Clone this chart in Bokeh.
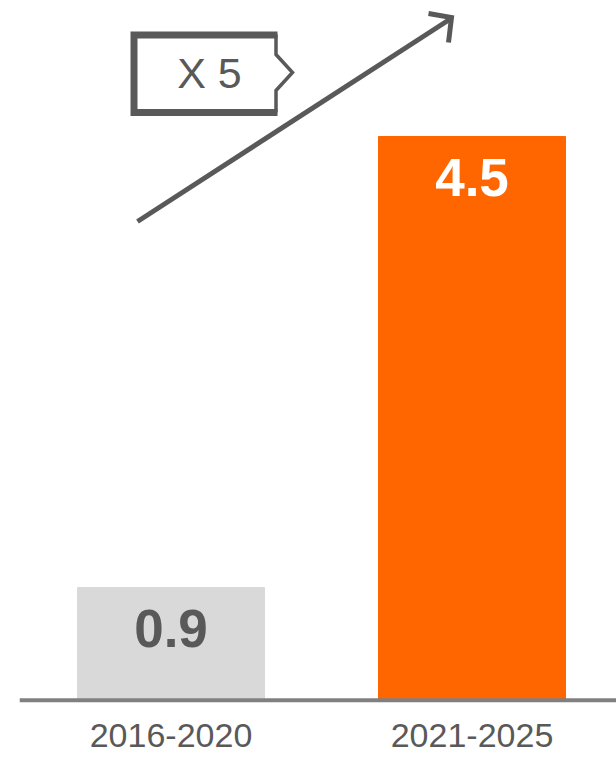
from bokeh.plotting import figure
from bokeh.models import Range1d, Span, ColumnDataSource
from bokeh.core.properties import value
from bokeh.embed import file_html
from bokeh.resources import INLINE

# ---- data ----
categories = ["2016-2020", "2021-2025"]
values = [0.9, 4.5]
bar_colors = ["#d9d9d9", "#ff6600"]
value_label_colors = ["#595959", "#ffffff"]
multiplier_label = "X 5"

# ---- layout constants (page pixels) ----
W, H = 616, 757
LEFT = 19
PX_PER_X = 301.0
PX_PER_Y = 125.28
ZERO_Y = 699.75              # pixel row of y = 0
X0 = 170.5 - LEFT            # frame pixel of first category centre
SHIFT = 0.4                  # baseline correction, in em

x_start = -X0 / PX_PER_X
x_end = x_start + (W - LEFT) / PX_PER_X
y_end = ZERO_Y / PX_PER_Y
y_start = -(H - ZERO_Y) / PX_PER_Y


def dx(page_x):
    return x_start + (page_x - LEFT) / PX_PER_X


def dy(page_y):
    return (ZERO_Y - page_y) / PX_PER_Y


TEXT = "#595959"

p = figure(width=W, height=H,
           x_range=Range1d(x_start, x_end), y_range=Range1d(y_start, y_end),
           output_backend="svg", toolbar_location=None,
           x_axis_location=None, y_axis_location=None,
           min_border_left=LEFT, min_border_right=0,
           min_border_top=0, min_border_bottom=0,
           outline_line_color=None, background_fill_color="white",
           border_fill_color="white")
p.xgrid.visible = False
p.ygrid.visible = False

VAL_FS = 53
xs = list(range(len(categories)))
src = ColumnDataSource(dict(
    x=xs, top=values, color=bar_colors,
    label=[f"{v:.1f}" for v in values],
    label_color=value_label_colors,
    label_y=[v - (62 - SHIFT * VAL_FS) / PX_PER_Y for v in values],
))

p.vbar(x="x", top="top", bottom=0, width=187 / PX_PER_X, color="color",
       source=src)

p.text(x="x", y="label_y", text="label", text_color="label_color",
       text_font=value("Liberation Sans"), text_font_size=f"{VAL_FS}px",
       text_font_style="bold", text_align="center",
       text_baseline="alphabetic", source=src)

# category labels
CAT_FS = 34
p.text(x=xs, y=[dy(749 - SHIFT * CAT_FS)] * len(xs), text=categories,
       text_color=TEXT, text_font=value("Liberation Sans"),
       text_font_size=f"{CAT_FS}px", text_align="center",
       text_baseline="alphabetic")

# baseline
p.add_layout(Span(location=0, dimension="width", line_color="#808080",
                  line_width=4))

# growth arrow
p.line([dx(137), dx(449)], [dy(221), dy(19)], line_width=5, color=TEXT)
p.line([dx(428), dx(451), dx(448)], [dy(13), dy(17), dy(42)],
       line_width=5, color=TEXT, line_join="miter")

# multiplier box
p.line([dx(277), dx(133.5), dx(133.5), dx(277)],
       [dy(34.5), dy(34.5), dy(112), dy(112)],
       line_width=7, color=TEXT, line_join="miter")
p.line([dx(275.5), dx(275.5), dx(292), dx(275.5), dx(275.5)],
       [dy(34), dy(54), dy(72), dy(90), dy(112)],
       line_width=3.5, color=TEXT, line_join="miter")
X_FS = 43
p.text(x=[dx(209)], y=[dy(90 - SHIFT * X_FS)], text=[multiplier_label],
       text_color=TEXT, text_font=value("Liberation Sans"),
       text_font_size=f"{X_FS}px", text_align="center",
       text_baseline="alphabetic")

open("out.html", "w").write(file_html(p, INLINE))
